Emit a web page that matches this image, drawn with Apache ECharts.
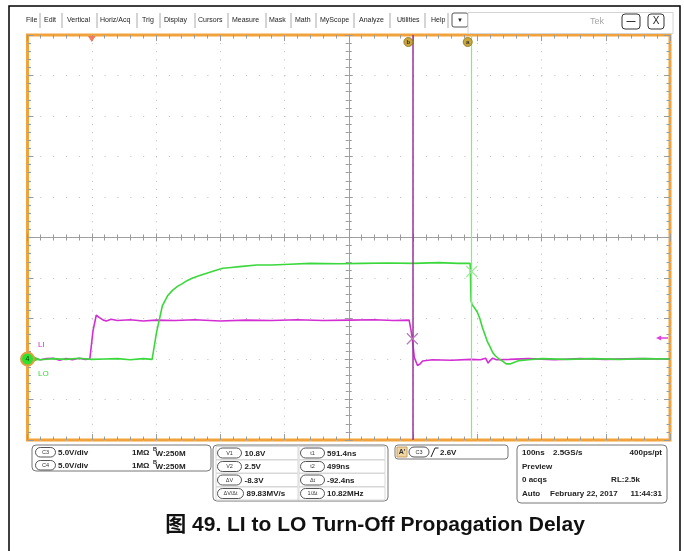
<!DOCTYPE html>
<html><head><meta charset="utf-8">
<script src="https://cdn.jsdelivr.net/npm/echarts@6/dist/echarts.min.js"></script>
<style>html,body{margin:0;padding:0;background:#fff}#c{width:684px;height:551px}</style>
</head><body><div id="c"></div>
<script>
// ---- data (time in ns, trigger at 0; volts, ground at 0) ----
const c3Time = [-100,-90,-80,-70,-60,-50,-40,-30,-20,-10,-3,2,7,12,18,23,30,40,60,80,100,130,160,200,240,280,320,360,400,440,470,494,497,499,502,507,511,515,530,560,590,605,613,617,620,624,630,650,680,720,760,800,850,900];
const c3Volt = [0,0.1,-0.1,0.05,0.1,-0.15,0.05,-0.1,0.1,-0.05,0,3.5,5.4,5.1,4.8,4.7,4.9,4.75,4.85,4.7,4.8,4.75,4.85,4.7,4.8,4.75,4.85,4.75,4.8,4.85,4.75,4.8,3.5,2.5,0.2,-0.8,-0.6,-0.25,-0.1,-0.15,-0.05,-0.1,0.1,-0.5,-0.2,0.1,-0.1,-0.05,0.05,-0.1,0.05,-0.05,0.05,0];
const c4Time = [-100,-80,-60,-40,-20,0,20,40,60,80,94,100.6,110,118,126,134,141,149,157,168,179,191,204,217,230,257,280,308,340,386,420,460,500,540,570,589,590.4,592,595,600,604,608,612,616,620,624,628,634,640,645,652,658,665,680,700,740,780,820,860,900];
const c4Volt = [0,-0.1,0.05,-0.05,0.1,-0.05,0,0.05,-0.1,0.05,-0.05,3.2,6.6,7.8,8.5,9.0,9.3,9.7,10.0,10.3,10.6,10.9,11.2,11.3,11.4,11.6,11.6,11.7,11.8,11.75,11.8,11.85,11.8,11.9,11.8,11.8,7.2,6.7,6.4,5.8,5.0,3.9,3.0,2.1,1.5,0.8,0.4,0,-0.3,-0.6,-0.6,-0.4,-0.2,-0.1,0.05,-0.05,0.05,-0.05,0.05,0];
const timeRange = [-100, 900];     // 100 ns/div, 10 div
const voltRange = [-10, 40];       // 5 V/div, 10 div
const cursorA = {t: 591.4, v: 10.8};
const cursorB = {t: 499, v: 2.5};
const triggerLevel = 2.6;
const menuItems = ['File','Edit','Vertical','Horiz/Acq','Trig','Display','Cursors','Measure','Mask','Math','MyScope','Analyze','Utilities','Help'];
const chanRows = [['C3','5.0V/div'],['C4','5.0V/div']];
const cursorRows = [['V1','10.8V','t1','591.4ns'],['V2','2.5V','t2','499ns'],['ΔV','-8.3V','Δt','-92.4ns'],['ΔV/Δt','89.83MV/s','1/Δt','10.82MHz']];
const acqRows = [['100ns','2.5GS/s','400ps/pt'],['Preview','',''],['0 acqs','','RL:2.5k'],['Auto','February 22, 2017','11:44:31']];
const caption = '图 49. LI to LO Turn-Off Propagation Delay';

const c3 = c3Time.map((t,i)=>[t,c3Volt[i]]);
const c4 = c4Time.map((t,i)=>[t,c4Volt[i]]);

const FF = "'Liberation Sans', Arial, 'Noto Sans CJK SC', sans-serif";
const ORANGE = '#f2a23a', MAG = '#d22ed2', GRN = '#3ad83a';
const TICK = '#9a9a9a', DOT = '#bdbdbd';

// ---- UI graphics ----
const G = [];
function rect(x,y,w,h,o){o=o||{};G.push({type:'rect',silent:true,z:100,shape:{x:x,y:y,width:w,height:h,r:o.r||0},style:{fill:o.fill||'#fff',stroke:o.stroke||'#666',lineWidth:o.lw||1}});}
function text(x,y,s,o){o=o||{};G.push({type:'text',silent:true,z:101,x:x,y:y,style:{text:s,fill:o.color||'#222',font:o.font||("bold 8px "+FF),textAlign:o.align||'left',align:o.align||'left',textVerticalAlign:'middle',verticalAlign:'middle'}});}
function line(x1,y1,x2,y2,o){o=o||{};G.push({type:'line',silent:true,z:100,shape:{x1:x1,y1:y1,x2:x2,y2:y2},style:{stroke:o.color||'#999',lineWidth:o.lw||1}});}
function pill(x,y,w,h,s){rect(x,y,w,h,{r:h/2,stroke:'#555'});text(x+w/2,y+h/2+0.3,s,{font:"5.5px "+FF,align:'center',color:'#333'});}

// outer frame
G.push({type:'rect',silent:true,z:90,shape:{x:9,y:6,width:671,height:560},style:{fill:'none',stroke:'#000',lineWidth:1.5}});
// menu bar
const menuX = [26,44,67,100,142,164,198,232,269,295,320,359,397,431];
const sepX = [40,62,97,137,160,195,228,266,291,316,354,390,425,448];
menuItems.forEach((m,i)=>text(menuX[i],20.5,m,{font:"7px "+FF,color:'#222'}));
sepX.forEach(x=>line(x,13,x,28,{color:'#aaa'}));
rect(452,13,16,14,{r:2,stroke:'#555'}); text(460,20,'▼',{font:"6px "+FF,align:'center',color:'#222'});
rect(468,12.5,205,21,{stroke:'#d4d4d4'});
text(597,22,'Tek',{font:"9px "+FF,align:'center',color:'#a8a8a8'});
rect(622,14,18,15,{r:3,stroke:'#333'}); text(631,21.5,'—',{font:"bold 9px "+FF,align:'center',color:'#222'});
rect(648,14,16,15,{r:3,stroke:'#333'}); text(656,21.5,'X',{font:"10px "+FF,align:'center',color:'#222'});

// channel labels
text(38,345,'LI',{font:"8px "+FF,color:MAG});
text(38,374,'LO',{font:"8px "+FF,color:GRN});

// panel 1: channels
rect(32,445,179,26,{r:4,stroke:'#777'});
chanRows.forEach((r,i)=>{const y=447.5+i*13;pill(35.5,y,20,9.5,r[0]);text(58,y+5,r[1]);text(132,y+5,'1MΩ');text(153,y+2,'B',{font:"bold 5.5px "+FF});text(155.5,y+6,'W:250M');});
// panel 2: cursor readouts
rect(213,445,175,56,{r:4,stroke:'#777'});
cursorRows.forEach((r,i)=>{const y=446.5+i*13.5;
  rect(216,y,82,13,{stroke:'#d8d8d8'});rect(299,y,86,13,{stroke:'#d8d8d8'});
  const w1=r[0].length>3?26:24;pill(217.5,y+1.5,w1,10,r[0]);text(217.5+w1+3,y+6.8,r[1]);
  pill(300.5,y+1.5,24,10,r[2]);text(327,y+6.8,r[3]);});
// panel 3: trigger
rect(395,445,113,14,{r:3,stroke:'#777'});
rect(397,447,10,10,{fill:'#f0d5a0',stroke:'#c8a060'});text(402,452.3,"A'",{font:"bold 7px "+FF,align:'center',color:'#333'});
pill(409,447,20,10,'C3');
G.push({type:'polyline',silent:true,z:101,shape:{points:[[431,457],[435,448],[438.5,448]]},style:{stroke:'#222',lineWidth:1,fill:'none'}});
text(440,452.3,'2.6V');
// panel 4: acquisition
rect(517,445,150,58,{r:4,stroke:'#777'});
acqRows.forEach((r,i)=>{const y=453+i*13.5;text(522,y,r[0]);if(r[1])text(i===3?550:553,y,r[1]);if(r[2])text(i===2?640:662,y,r[2],{align:'right'});});
// caption
text(375,525,caption,{font:"bold 21px "+FF,align:'center',color:'#111'});

// ---- axes ----
const TK = (inside,len,mlen)=>({axisTick:{show:true,inside:inside,length:len,lineStyle:{color:TICK}},minorTick:{show:true,splitNumber:5,length:mlen,lineStyle:{color:TICK}}});
function xAx(extra){return Object.assign({type:'value',min:timeRange[0],max:timeRange[1],interval:100,gridIndex:0,axisLabel:{show:false},splitLine:{show:false},axisLine:{show:false,onZero:false}},TK(true,6,3.5),extra);}
function yAx(extra){return Object.assign({type:'value',min:voltRange[0],max:voltRange[1],interval:5,gridIndex:0,axisLabel:{show:false},splitLine:{show:false},axisLine:{show:false,onZero:false}},TK(true,6,3.5),extra);}
const GH = 405, GW = 642.5;
const CENTER_LINE = {show:true,onZero:false,lineStyle:{color:'#a0a0a0',width:1}};
const xAxes = [
  xAx({position:'bottom',splitLine:{show:true,lineStyle:{color:DOT,width:1,type:[1,7.1]}}}),
  xAx({position:'top'}),
  xAx(Object.assign({position:'bottom',offset:-GH/2,axisLine:CENTER_LINE},TK(true,4,3))),
  xAx(Object.assign({position:'bottom',offset:-GH/2},TK(false,4,3)))
];
const yAxes = [
  yAx({position:'left',splitLine:{show:true,lineStyle:{color:DOT,width:1,type:[1,11.85]}}}),
  yAx({position:'right'}),
  yAx(Object.assign({position:'left',offset:-GW/2,axisLine:CENTER_LINE},TK(true,4,3))),
  yAx(Object.assign({position:'left',offset:-GW/2},TK(false,4,3)))
];

const X_PATH = 'path://M0,0L10,10M10,0L0,10';
const option = {
  animation:false,
  backgroundColor:'#fff',
  grid:{left:27.5,top:35,width:GW,height:GH,show:true,borderColor:ORANGE,borderWidth:3,backgroundColor:'#fff'},
  xAxis:xAxes, yAxis:yAxes,
  graphic:{elements:G},
  series:[
    {type:'line',name:'LI',data:c3,xAxisIndex:0,yAxisIndex:0,showSymbol:false,symbol:'none',lineStyle:{color:MAG,width:1.6},z:3,
     markLine:{silent:true,symbol:'none',label:{show:false},lineStyle:{color:'#9a339a',width:1.5,type:'solid'},data:[{xAxis:cursorB.t}]},
     markPoint:{silent:true,data:[
       {coord:[cursorB.t,cursorB.v],symbol:X_PATH,symbolSize:11,itemStyle:{color:'none',borderColor:'#b77ab7',borderWidth:1.2},label:{show:false}},
       {coord:[cursorB.t,voltRange[1]],symbol:'circle',symbolSize:9,symbolOffset:[-4,7],itemStyle:{color:'#c9a63a',borderColor:'#8a7020',borderWidth:0.8},label:{show:true,position:'inside',formatter:'b',fontSize:6,fontWeight:'bold',color:'#333'}},
       {coord:[timeRange[1],triggerLevel],symbol:'path://M0,5L6,0L6,3.6L14,3.6L14,6.4L6,6.4L6,10Z',symbolSize:[12,5],symbolOffset:[-8,0],itemStyle:{color:'#e040e0'},label:{show:false}},
       {coord:[0,voltRange[1]],symbol:'triangle',symbolRotate:180,symbolSize:[8,6],symbolOffset:[0,4],itemStyle:{color:'#f37a5a'},label:{show:false}}
     ]}},
    {type:'line',name:'LO',data:c4,xAxisIndex:0,yAxisIndex:0,showSymbol:false,symbol:'none',lineStyle:{color:GRN,width:1.6},z:4,
     markLine:{silent:true,symbol:'none',label:{show:false},lineStyle:{color:'#7ef07e',width:1.2,type:'solid'},data:[{xAxis:cursorA.t}]},
     markPoint:{silent:true,data:[
       {coord:[cursorA.t,cursorA.v],symbol:X_PATH,symbolSize:11,itemStyle:{color:'none',borderColor:'#9ee89e',borderWidth:1.2},label:{show:false}},
       {coord:[cursorA.t,voltRange[1]],symbol:'circle',symbolSize:9,symbolOffset:[-4,7],itemStyle:{color:'#c9a63a',borderColor:'#8a7020',borderWidth:0.8},label:{show:true,position:'inside',formatter:'a',fontSize:6,fontWeight:'bold',color:'#333'}},
       {coord:[timeRange[0],0],symbol:'triangle',symbolRotate:-90,symbolSize:[6,6],symbolOffset:[9,0],itemStyle:{color:GRN},label:{show:false}},
       {coord:[timeRange[0],0],symbol:'circle',symbolSize:13,itemStyle:{color:'#2fe02f',borderColor:'#e0a040',borderWidth:2},label:{show:true,position:'inside',formatter:'4',fontSize:7,color:'#114411'}}
     ]}}
  ]
};
const chart = echarts.init(document.getElementById('c'),null,{renderer:'canvas'});
chart.setOption(option);
</script></body></html>
